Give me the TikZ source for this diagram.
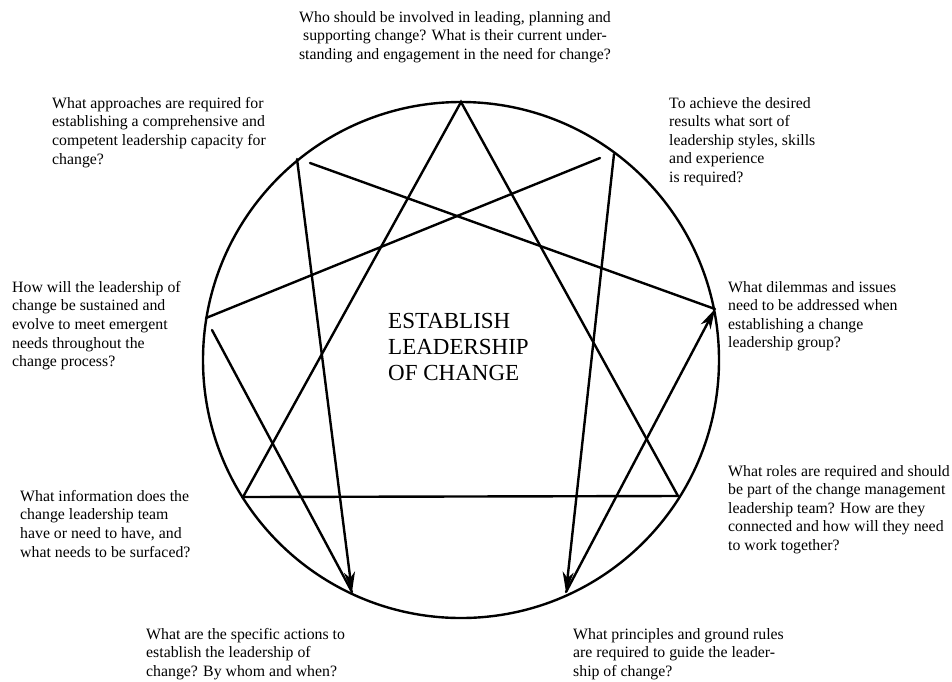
\documentclass[tikz,border=0pt]{standalone}
\usepackage{fontspec}
\setmainfont{Liberation Serif}
\usetikzlibrary{arrows.meta,positioning}

\begin{document}
\begin{tikzpicture}[x=1pt, y=-1pt,
    ring/.style={line width=2.4pt},
    edge/.style={line width=2.4pt, line cap=round, line join=miter},
    flow/.style={edge, -{Stealth[length=20pt, width=11pt, inset=6pt]}},
    quest/.style={anchor=north west, inner sep=0pt, align=left, font=\fontsize{15.8}{18.6}\selectfont},
    title/.style={anchor=north west, inner sep=0pt, align=left, font=\fontsize{23}{26}\selectfont}
]
\useasboundingbox (0,0) rectangle (952,681);

\coordinate (c) at (461,360);
\coordinate (p9) at (461,102);
\coordinate (p1) at (614,154);
\coordinate (p2) at (715,309);
\coordinate (p3) at (678,496);
\coordinate (p4) at (566,592);
\coordinate (p5) at (352,592);
\coordinate (p6) at (243,497);
\coordinate (p7) at (206,318);
\coordinate (p8) at (297,159);
\coordinate (s1) at (600,158);
\coordinate (s7) at (212,330);
\coordinate (s8) at (310,163);

\draw[ring] (c) circle[radius=258pt];
\draw[edge] (p9) -- (p3) -- (p6) -- cycle;

\draw[flow] (p8) -- (p5);
\draw[edge] (s7) -- (p5);
\draw[edge] (p7) -- (s1);
\draw[flow] (p1) -- (p4);
\draw[flow] (p4) -- (p2);
\draw[edge] (s8) -- (p2);

\node[quest, anchor=north, align=center] (q9) at (455,11) {Who should be involved in leading, planning and\\ supporting change? What is their current under-\\standing and engagement in the need for change?};
\node[quest] (q8) at (52,97) {What approaches are required for\\establishing a comprehensive and\\competent leadership capacity for\\change?};
\node[quest] (q1) at (669,97) {To achieve the desired\\results what sort of\\leadership styles, skills\\and experience\\ is required?};
\node[quest] (q7) at (12,281) {How will the leadership of\\change be sustained and\\evolve to meet emergent\\needs throughout the\\change process?};
\node[quest] (q2) at (728,281) {What dilemmas and issues\\need to be addressed when\\establishing a change\\leadership group?};
\node[title] (main) at (388,313) {ESTABLISH\\LEADERSHIP\\OF CHANGE};
\node[quest] (q6) at (20,490) {What information does the\\change leadership team\\have or need to have, and\\what needs to be surfaced?};
\node[quest] (q3) at (728,465) {What roles are required and should\\be part of the change management\\leadership team? How are they\\connected and how will they need\\to work together?};
\node[quest] (q5) at (146,628) {What are the specific actions to\\establish the leadership of\\change? By whom and when?};
\node[quest] (q4) at (573,628) {What principles and ground rules\\are required to guide the leader-\\ship of change?};

\end{tikzpicture}
\end{document}
